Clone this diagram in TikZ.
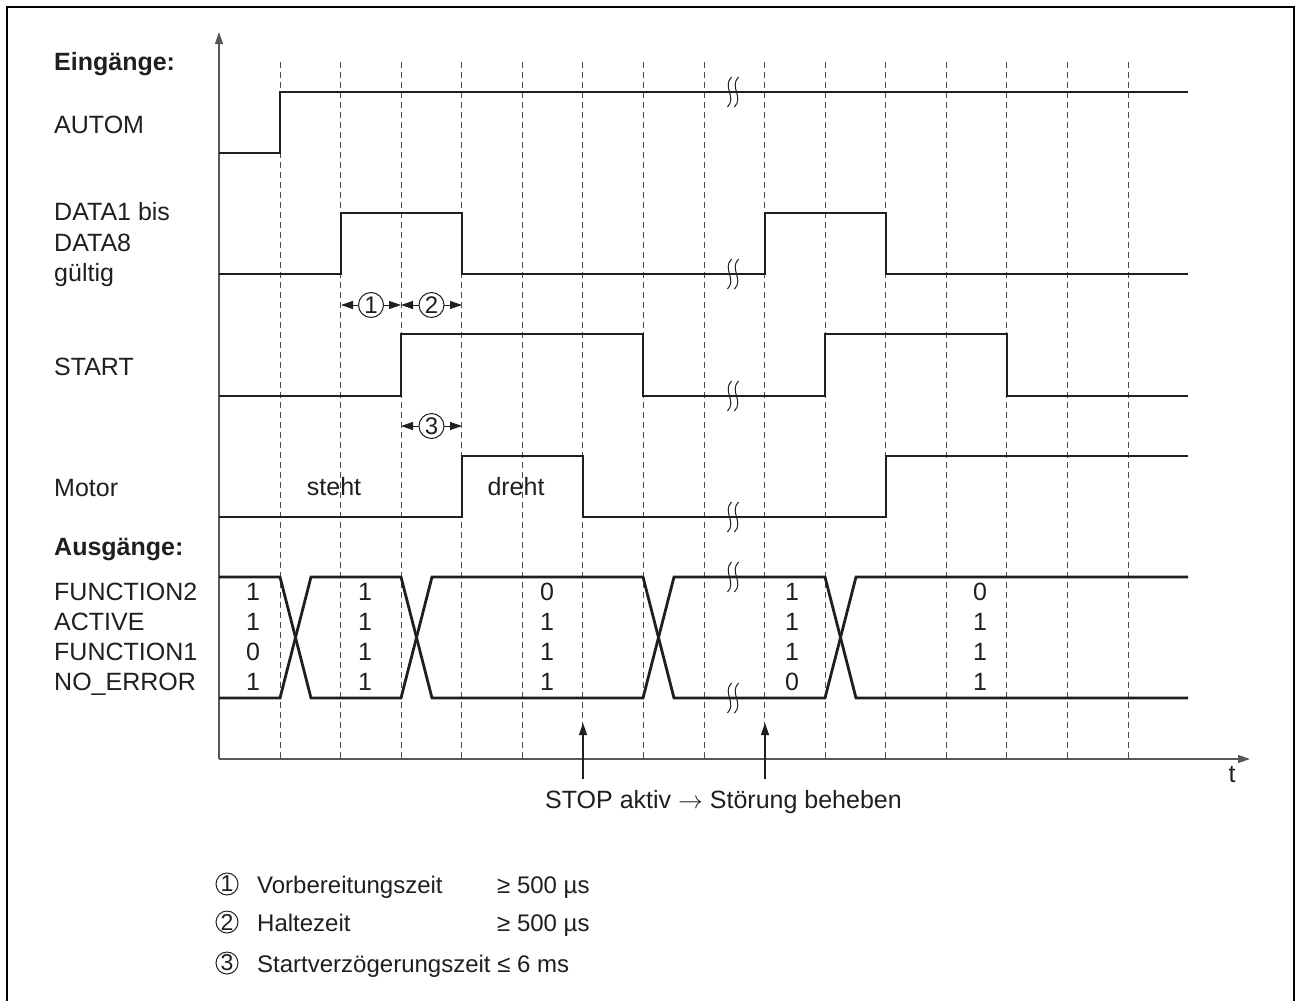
\documentclass[tikz,border=0pt]{standalone}
\usepackage{fontspec}
\setmainfont{Liberation Sans}
\usetikzlibrary{arrows.meta,positioning,calc}

\definecolor{ink}{gray}{0.12}

% break mark on a signal line
\newcommand{\sigbreak}[2]{%
  \draw[brk] ({#1-1.5},{#2-15}) .. controls ({#1-11},{#2-5}) and ({#1+4},{#2+5}) .. ({#1-5.5},{#2+15});
  \draw[brk] ({#1+5.5},{#2-15}) .. controls ({#1-4},{#2-5}) and ({#1+11},{#2+5}) .. ({#1+1.5},{#2+15});
}

\begin{document}
\begin{tikzpicture}[x=1pt, y=-1pt, >={Triangle[length=12pt,width=8pt]},
    every node/.style={font=\fontsize{25}{30}\selectfont, text=ink},
    lbl/.style={anchor=base west, inner sep=0pt},
    val/.style={anchor=base, inner sep=0pt},
    sig/.style={line width=2.8pt, ink},
    gridline/.style={black!70, line width=0.9pt, dash pattern=on 6pt off 4pt},
    axis/.style={black!65, line width=1.3pt},
    brk/.style={ink, line width=1pt},
    dim/.style={<->, ink, line width=0.9pt},
    num/.style={circle, draw=ink, line width=1pt, fill=white, inner sep=0pt, minimum size=25pt, font=\fontsize{24}{28}\selectfont},
    legnum/.style={num, minimum size=22pt, font=\fontsize{23}{27}\selectfont},
    leg/.style={lbl, font=\fontsize{24}{29}\selectfont}]
        \useasboundingbox (0,0) rectangle (1301,1001);
        \draw[line width=2.5pt] (7,1001) -- (7,7) -- (1294,7) -- (1294,1001);

        % Grid
        \foreach \i in {0,...,14}
            \draw[gridline] ({280+60.57*\i},62) -- ({280+60.57*\i},759);

        % Axes
        \coordinate (origin) at (219,759);
        \coordinate (ytip) at (219,32);
        \coordinate (xtip) at (1250,759);
        \draw[axis, ->] (origin) -- (ytip);
        \draw[axis, ->] (origin) -- (xtip);
        \node[val] (tlabel) at (1232,782) {t};

        % Labels
        \node[lbl, font=\fontsize{25}{30}\selectfont\bfseries] (eing) at (54,70) {Eingänge:};
        \node[lbl] (autom) at (54,133) {AUTOM};
        \node[lbl] (data1) at (54,220) {DATA1 bis};
        \node[lbl] (data8) at (54,251) {DATA8};
        \node[lbl] (valid) at (54,281) {gültig};
        \node[lbl] (start) at (54,375) {START};
        \node[lbl] (motor) at (54,496) {Motor};
        \node[lbl, font=\fontsize{25}{30}\selectfont\bfseries] (ausg) at (54,555) {Ausgänge:};
        \node[lbl] (func2) at (54,600) {FUNCTION2};
        \node[lbl] (active) at (54,630) {ACTIVE};
        \node[lbl] (func1) at (54,660) {FUNCTION1};
        \node[lbl] (noerr) at (54,690) {NO\_ERROR};

        % Signals
        \draw[sig] (219,153) -- (280,153) -- (280,92) -- (1188,92);
        \draw[sig] (219,274) -- (341,274) -- (341,213) -- (462,213) -- (462,274) -- (765,274)
            -- (765,213) -- (886,213) -- (886,274) -- (1188,274);
        \draw[sig] (219,396) -- (401,396) -- (401,334) -- (643,334) -- (643,396) -- (825,396)
            -- (825,334) -- (1007,334) -- (1007,396) -- (1188,396);
        \draw[sig] (219,517) -- (462,517) -- (462,456) -- (583,456) -- (583,517) -- (886,517)
            -- (886,456) -- (1188,456);
        \node[val] (steht) at (334,495) {steht};
        \node[val] (dreht) at (516,495) {dreht};

        % Output bus
        \draw[sig] (219,577) -- (280,577) -- (311,698) -- (401,698) -- (432,577) -- (643,577)
            -- (674,698) -- (825,698) -- (856,577) -- (1188,577);
        \draw[sig] (219,698) -- (280,698) -- (311,577) -- (401,577) -- (432,698) -- (643,698)
            -- (674,577) -- (825,577) -- (856,698) -- (1188,698);
        \foreach \xc/\a/\b/\c/\d in {253/1/1/0/1, 365/1/1/1/1, 547/0/1/1/1, 792/1/1/1/0, 980/0/1/1/1} {
            \node[val] (v\xc a) at (\xc,600) {\a};
            \node[val] (v\xc b) at (\xc,630) {\b};
            \node[val] (v\xc c) at (\xc,660) {\c};
            \node[val] (v\xc d) at (\xc,690) {\d};
        }

        % Breaks
        \sigbreak{733}{92}
        \sigbreak{733}{274}
        \sigbreak{733}{396}
        \sigbreak{733}{517}
        \sigbreak{733}{577}
        \sigbreak{733}{698}

        % Timing marks
        \coordinate (m1l) at (341,305);
        \coordinate (m1r) at (401,305);
        \coordinate (m2r) at (462,305);
        \coordinate (m3l) at (401,426);
        \coordinate (m3r) at (462,426);
        \draw[dim] (m1l) -- node[num] (n1) {1} (m1r);
        \draw[dim] (m1r) -- node[num] (n2) {2} (m2r);
        \draw[dim] (m3l) -- node[num] (n3) {3} (m3r);

        % Stop
        \coordinate (stop1) at (583,779);
        \coordinate (stop1tip) at (583,723);
        \coordinate (stop2) at (765,779);
        \coordinate (stop2tip) at (765,723);
        \draw[axis, ink, ->] (stop1) -- (stop1tip);
        \draw[axis, ink, ->] (stop2) -- (stop2tip);
        \node[lbl] (stoptext) at (545,808) {STOP aktiv $\rightarrow$ Störung beheben};

        % Legend
        \node[legnum] (l1) at (227,884) {1};
        \node[legnum] (l2) at (227,922) {2};
        \node[legnum] (l3) at (227,963) {3};
        \node[leg] (leg1) at (257,893) {Vorbereitungszeit};
        \node[leg] (leg2) at (257,931) {Haltezeit};
        \node[leg] (leg3) at (257,972) {Startverzögerungszeit ≤ 6 ms};
        \node[leg] (leg1v) at (497,893) {≥ 500 µs};
        \node[leg] (leg2v) at (497,931) {≥ 500 µs};
    \end{tikzpicture}
\end{document}
